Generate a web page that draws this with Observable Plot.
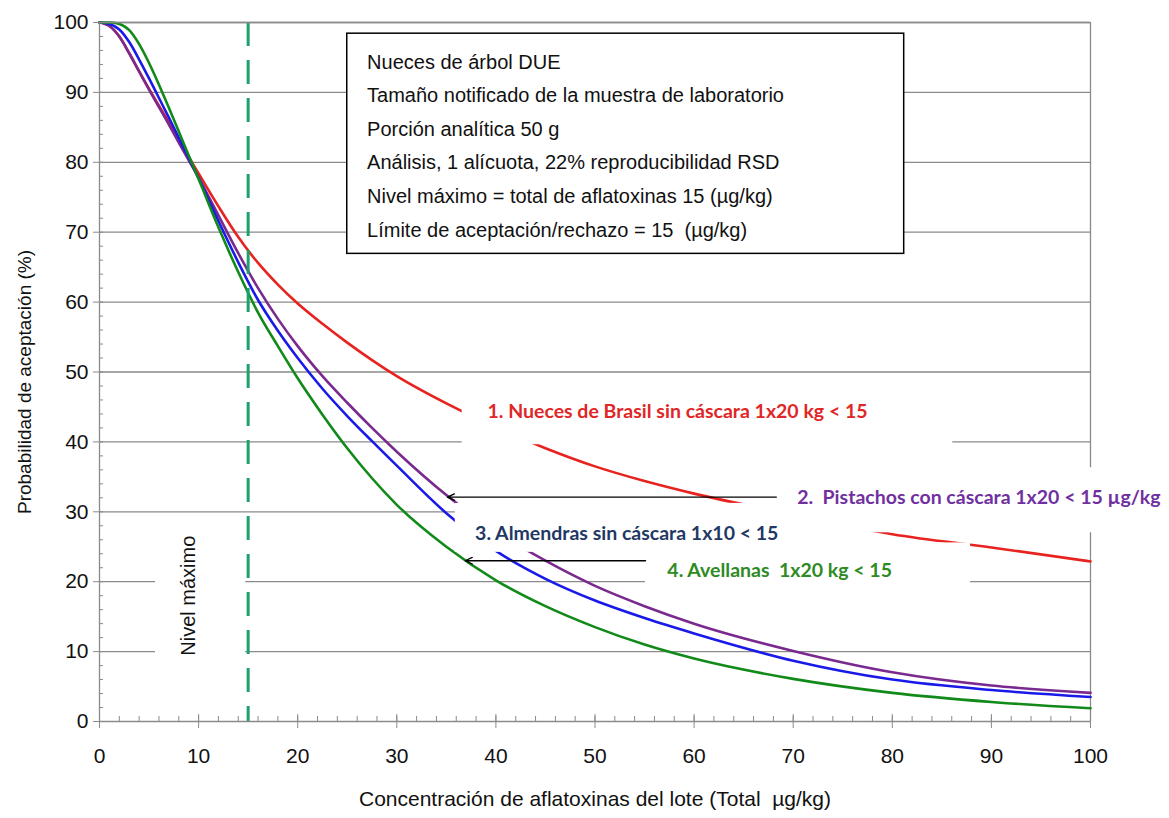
<!DOCTYPE html>
<html><head><meta charset="utf-8">
<script src="https://cdn.jsdelivr.net/npm/d3@7"></script>
<script src="https://cdn.jsdelivr.net/npm/@observablehq/plot@0.6"></script>
<style>
body{margin:0;background:#fff;}
#chart svg text{white-space:pre;}
</style></head><body><div id="chart"></div>
<script>
// Lot concentration (µg/kg) and probability of acceptance (%) for each plan
const concentration = [0, 1, 2, 3, 4, 5, 6, 7, 8, 10, 12, 14, 16, 18, 20, 22.5, 25, 27.5, 30, 35, 40, 45, 50, 55, 60, 70, 80, 90, 100];
const brasil    = [100, 99.5, 98.0, 95.6, 93.0, 90.5, 88.1, 85.7, 83.2, 78.4, 73.7, 69.3, 65.6, 62.5, 59.8, 56.9, 54.2, 51.7, 49.4, 45.5, 42.1, 39.1, 36.5, 34.4, 32.6, 29.6, 26.8, 24.9, 22.9];
const pistachos = [100, 99.5, 98.0, 95.6, 93.0, 90.4, 87.9, 85.4, 82.8, 77.8, 72.4, 67.0, 62.0, 57.6, 53.7, 49.4, 45.6, 42.0, 38.6, 32.4, 27.2, 23.0, 19.4, 16.5, 14.0, 10.1, 7.05, 5.15, 4.1];
const almendras = [100, 99.8, 99.0, 97.2, 94.7, 92.0, 89.2, 86.4, 83.5, 77.7, 71.6, 65.7, 60.3, 55.9, 52.0, 47.6, 43.7, 40.1, 36.6, 29.8, 24.4, 20.4, 17.3, 14.8, 12.6, 8.7, 6.0, 4.5, 3.5];
const avellanas = [100, 100, 99.8, 98.9, 96.9, 94.2, 91.1, 87.8, 84.4, 77.6, 70.7, 64.3, 58.5, 53.7, 49.1, 43.9, 39.1, 34.8, 31.0, 25.0, 20.2, 16.5, 13.5, 11.0, 9.0, 6.1, 4.1, 2.8, 1.9];

const seriesNames  = ["Nueces de Brasil", "Pistachos", "Almendras", "Avellanas"];
const seriesValues = [brasil, pistachos, almendras, avellanas];
const seriesColors = ["#e8231f", "#7a2a8e", "#1a1ae8", "#118a1a"];

const yTicks = [0, 10, 20, 30, 40, 50, 60, 70, 80, 90, 100];
const xTicks = [0, 10, 20, 30, 40, 50, 60, 70, 80, 90, 100];
const minorTicks = [0,2,4,6,8,10,12,14,16,18,20,22,24,26,28,30,32,34,36,38,40,42,44,46,48,50,52,54,56,58,60,62,64,66,68,70,72,74,76,78,80,82,84,86,88,90,92,94,96,98,100];
const nivelMaximo = 15;

// Information box
const infoLines = [
  "Nueces de árbol DUE",
  "Tamaño notificado de la muestra de laboratorio",
  "Porción analítica 50 g",
  "Análisis, 1 alícuota, 22% reproducibilidad RSD",
  "Nivel máximo = total de aflatoxinas 15 (µg/kg)",
  "Límite de aceptación/rechazo = 15  (µg/kg)"
];
const infoLineY = [94.3, 89.5, 84.7, 79.9, 75.1, 70.3];
const infoBox = [{x1: 25.0, x2: 81.2, y1: 66.9, y2: 98.4}];

// Curve labels
const labelTexts  = ["1. Nueces de Brasil sin cáscara 1x20 kg < 15", "2.  Pistachos con cáscara 1x20 < 15 µg/kg", "3. Almendras sin cáscara 1x10 < 15", "4. Avellanas  1x20 kg < 15"];
const labelX      = [39.15, 70.4, 37.9, 57.3];
const labelY      = [44.3, 32.0, 26.9, 21.6];
const labelColors = ["#e02626", "#7030a0", "#1f3864", "#2e8b24"];

// White backgrounds of the label boxes
const maskBoxes = [
  {x1: 36.6, x2: 86.1, y1: 39.6, y2: 46.6},
  {x1: 68.3, x2: 108, y1: 27.0, y2: 36.3},
  {x1: 35.9, x2: 70.7, y1: 24.2, y2: 31.2},
  {x1: 55.1, x2: 87.9, y1: 17.6, y2: 25.55},
  {x1: 5.65, x2: 14.75, y1: 7, y2: 27}
];

// Pointer arrows
const arrows = [
  {x1: 68.3, y1: 32.1, x2: 35.1, y2: 32.1},
  {x1: 55.1, y1: 23.0, x2: 36.9, y2: 23.0}
];

const curveData = seriesNames.flatMap((name, s) =>
  concentration.map((c, i) => ({serie: name, x: c, y: seriesValues[s][i]})));

const regular = "'Liberation Sans', Arial, sans-serif";
const labelFont = "Lato, 'Open Sans', sans-serif";
const gray = "#8a8a8a";

const chart = Plot.plot({
  width: 1169, height: 818,
  marginLeft: 99, marginRight: 79, marginTop: 22, marginBottom: 97,
  x: {domain: [0, 100]},
  y: {domain: [0, 100]},
  color: {domain: seriesNames, range: seriesColors},
  style: {fontFamily: regular, background: "white", color: "black", overflow: "visible"},
  marks: [
    Plot.ruleY(yTicks.filter(d => d > 0), {stroke: gray, strokeWidth: 1.3}),
    Plot.ruleX([100], {stroke: gray, strokeWidth: 1.3}),
    Plot.line(curveData, {x: "x", y: "y", z: "serie", stroke: "serie", strokeWidth: 2.6, curve: "monotone-x"}),
    Plot.ruleX([nivelMaximo], {stroke: "#1f9e6e", strokeWidth: 3, strokeDasharray: "24,14"}),
    Plot.rect(maskBoxes, {x1: "x1", x2: "x2", y1: "y1", y2: "y2", fill: "white"}),
    Plot.rect(infoBox, {x1: "x1", x2: "x2", y1: "y1", y2: "y2", fill: "white", stroke: "black", strokeWidth: 1.5}),
    Plot.text(infoLines, {x: 27.0, y: (d, i) => infoLineY[i], text: d => d, textAnchor: "start", fontSize: 20, fontFamily: regular, fill: "#111"}),
    Plot.text(labelTexts, {x: (d, i) => labelX[i], y: (d, i) => labelY[i], text: d => d, textAnchor: "start", fontSize: 19.5, fontWeight: "bold", fontFamily: labelFont, fill: (d, i) => labelColors[i]}),
    Plot.arrow(arrows, {x1: "x1", y1: "y1", x2: "x2", y2: "y2", stroke: "black", strokeWidth: 1.3, headLength: 9, headAngle: 50}),
    Plot.text(["Nivel máximo"], {x: 9.0, y: 18.0, text: d => d, rotate: -90, fontSize: 20, fontFamily: regular, fill: "#111"}),
    Plot.ruleX([0], {stroke: gray, strokeWidth: 1.3}),
    Plot.ruleY([0], {stroke: gray, strokeWidth: 1.3}),
    Plot.ruleY([100], {stroke: gray, strokeWidth: 1.3}),
    Plot.axisY(yTicks, {tickSize: 6, tickPadding: 5, fontSize: 21, fontFamily: regular, stroke: gray, fill: "#111", label: null}),
    Plot.axisY(minorTicks, {tickSize: 4, dx: 4, tickFormat: () => "", stroke: gray, label: null}),
    Plot.axisX(xTicks, {tickSize: 7, tickPadding: 20, fontSize: 21, fontFamily: regular, stroke: gray, fill: "#111", label: null}),
    Plot.axisX(xTicks, {tickSize: 7, dy: -7, tickFormat: () => "", stroke: gray, label: null}),
    Plot.axisX(minorTicks, {tickSize: 5, dy: -5, tickFormat: () => "", stroke: gray, label: null}),
    Plot.text(["Probabilidad de aceptación (%)"], {frameAnchor: "left", dx: -75, dy: 10, rotate: -90, textAnchor: "middle", fontSize: 19, fontFamily: regular, fill: "#111"}),
    Plot.text(["Concentración de aflatoxinas del lote (Total  µg/kg)"], {frameAnchor: "bottom", dy: 84, fontSize: 21, fontFamily: regular, fill: "#111"})
  ]
});
document.getElementById("chart").appendChild(chart);
</script></body></html>
